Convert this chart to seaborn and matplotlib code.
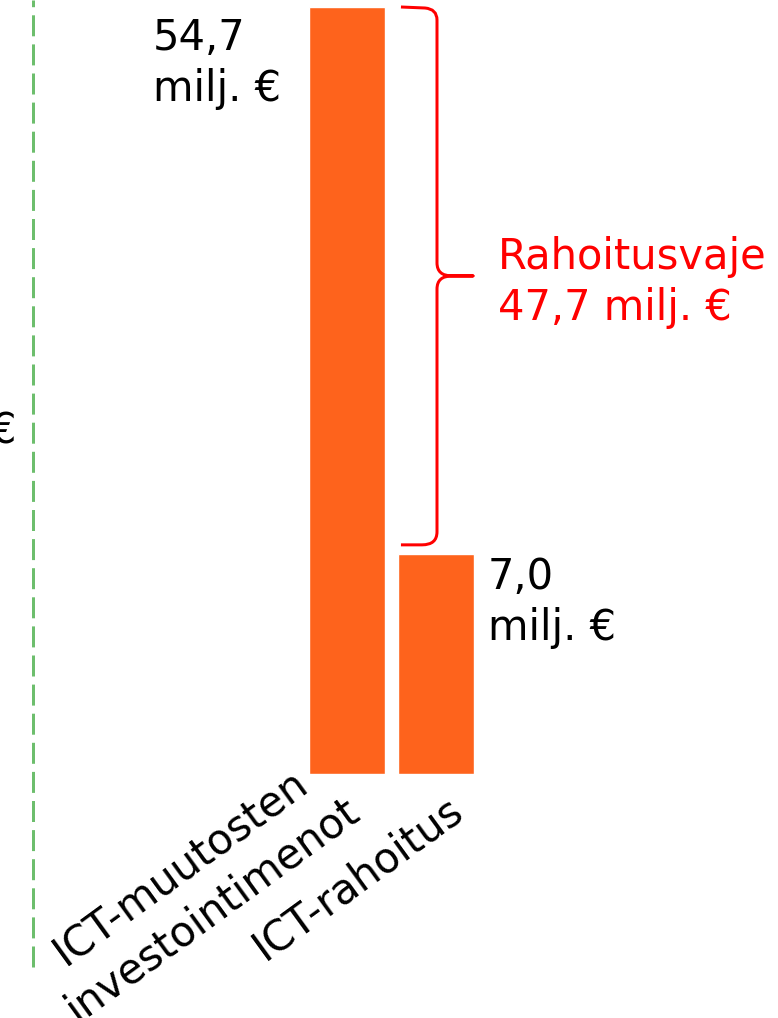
import matplotlib
matplotlib.use("Agg")
import matplotlib.pyplot as plt
import seaborn as sns
import pandas as pd
from matplotlib.path import Path
from matplotlib.patches import PathPatch
from matplotlib.lines import Line2D
from matplotlib.transforms import ScaledTranslation, IdentityTransform

# ---- data ----
categories = ["ICT-muutosten\ninvestointimenot", "ICT-rahoitus"]
bar_heights = [54.7, 15.7]          # drawn heights as they appear in the picture
value_labels = ["54,7\nmilj. €", "7,0\nmilj. €"]
gap_label = "Rahoitusvaje\n47,7 milj. €"
left_fragment = "€"

BAR_COLOR = "#FE631C"
RED = "#FF0000"
GREEN = "#6DBE6D"
FS = 30

sns.set_theme(style="white")
plt.rcParams["font.family"] = ["DejaVu Sans"]

W, H, DPI = 778, 1018, 100
fig = plt.figure(figsize=(W / DPI, H / DPI), dpi=DPI)
bottom_px = 774            # bar baseline, px from top
ax = fig.add_axes([0, (H - bottom_px) / H, 1, bottom_px / H])

df = pd.DataFrame({"cat": categories, "val": bar_heights})
bar_w = 0.855
sns.barplot(data=df, x="cat", y="val", color=BAR_COLOR, saturation=1,
            width=bar_w, ax=ax)

px_per_x = 89.0
ax.set_xlim(-347 / px_per_x, (W - 347) / px_per_x)
px_per_y = (bottom_px - 7) / bar_heights[0]
ax.set_ylim(0, bar_heights[0] + 7 / px_per_y)

for s in ax.spines.values():
    s.set_visible(False)
ax.set_xlabel("")
ax.set_ylabel("")
ax.set_yticks([])
ax.tick_params(axis="x", length=0, pad=0)
ax.set_xticks(range(len(categories)))
ax.set_xticklabels(categories, rotation=36, ha="right", va="top",
                   rotation_mode="anchor", fontsize=FS, color="black",
                   multialignment="center", linespacing=1.3)
label_offsets = [(-36, -27), (10, 14)]   # px (dx right, dy down)
for lab, (dx, dy) in zip(ax.get_xticklabels(), label_offsets):
    lab.set_transform(lab.get_transform() +
                      ScaledTranslation(dx / DPI, -dy / DPI, fig.dpi_scale_trans))

# value labels
ax.annotate(value_labels[0], xy=(0 - bar_w / 2, bar_heights[0]),
            xytext=(-156 * 72 / DPI, -10 * 72 / DPI), textcoords="offset points",
            ha="left", va="top", fontsize=FS, color="black", linespacing=1.27)
ax.annotate(value_labels[1], xy=(1 + bar_w / 2, bar_heights[1]),
            xytext=(14 * 72 / DPI, -2 * 72 / DPI), textcoords="offset points",
            ha="left", va="top", fontsize=FS, color="black", linespacing=1.27)

# brace between bar tops (built in display pixels from data anchors)
fig.canvas.draw()
T = ax.transData.transform
x_left = T((1 - bar_w / 2, 0))[0] + 3
x_vert = T((1, 0))[0] + 1
x_tip = T((1, 0))[0] + 37
y_top = T((0, bar_heights[0]))[1]
y_bot = T((0, bar_heights[1]))[1] + 9
y_mid = (y_top + y_bot) / 2
r = 13
verts = [
    (x_left, y_top), (x_vert - 12, y_top - 1),
    (x_vert, y_top - 2), (x_vert, y_top - r),
    (x_vert, y_mid + r),
    (x_vert, y_mid), (x_vert + 15, y_mid),
    (x_tip, y_mid),
    (x_vert + 15, y_mid),
    (x_vert, y_mid), (x_vert, y_mid - r),
    (x_vert, y_bot + r),
    (x_vert, y_bot), (x_vert - 15, y_bot),
    (x_left, y_bot),
]
codes = [Path.MOVETO, Path.LINETO,
         Path.CURVE3, Path.CURVE3,
         Path.LINETO,
         Path.CURVE3, Path.CURVE3,
         Path.LINETO,
         Path.LINETO,
         Path.CURVE3, Path.CURVE3,
         Path.LINETO,
         Path.CURVE3, Path.CURVE3,
         Path.LINETO]
brace = PathPatch(Path(verts, codes), facecolor="none", edgecolor=RED,
                  linewidth=3 * 72 / DPI, transform=IdentityTransform(),
                  capstyle="butt", joinstyle="round")
fig.add_artist(brace)

fig.text((x_tip + 25) / W, (y_mid + 40) / H, gap_label, ha="left", va="top",
         fontsize=FS, color=RED, linespacing=1.27)

# green dashed guide line at the left and cut-off text fragment
fig.add_artist(Line2D([33 / W, 33 / W], [(H - 967) / H, 1.0],
                      transform=fig.transFigure, color=GREEN,
                      linewidth=3 * 72 / DPI, linestyle=(0, (7, 2.7))))
fig.text(-11 / W, (H - 432) / H, left_fragment, ha="left", va="center",
         fontsize=FS, color="black")

fig.savefig("out.png", dpi=DPI, facecolor="white")
